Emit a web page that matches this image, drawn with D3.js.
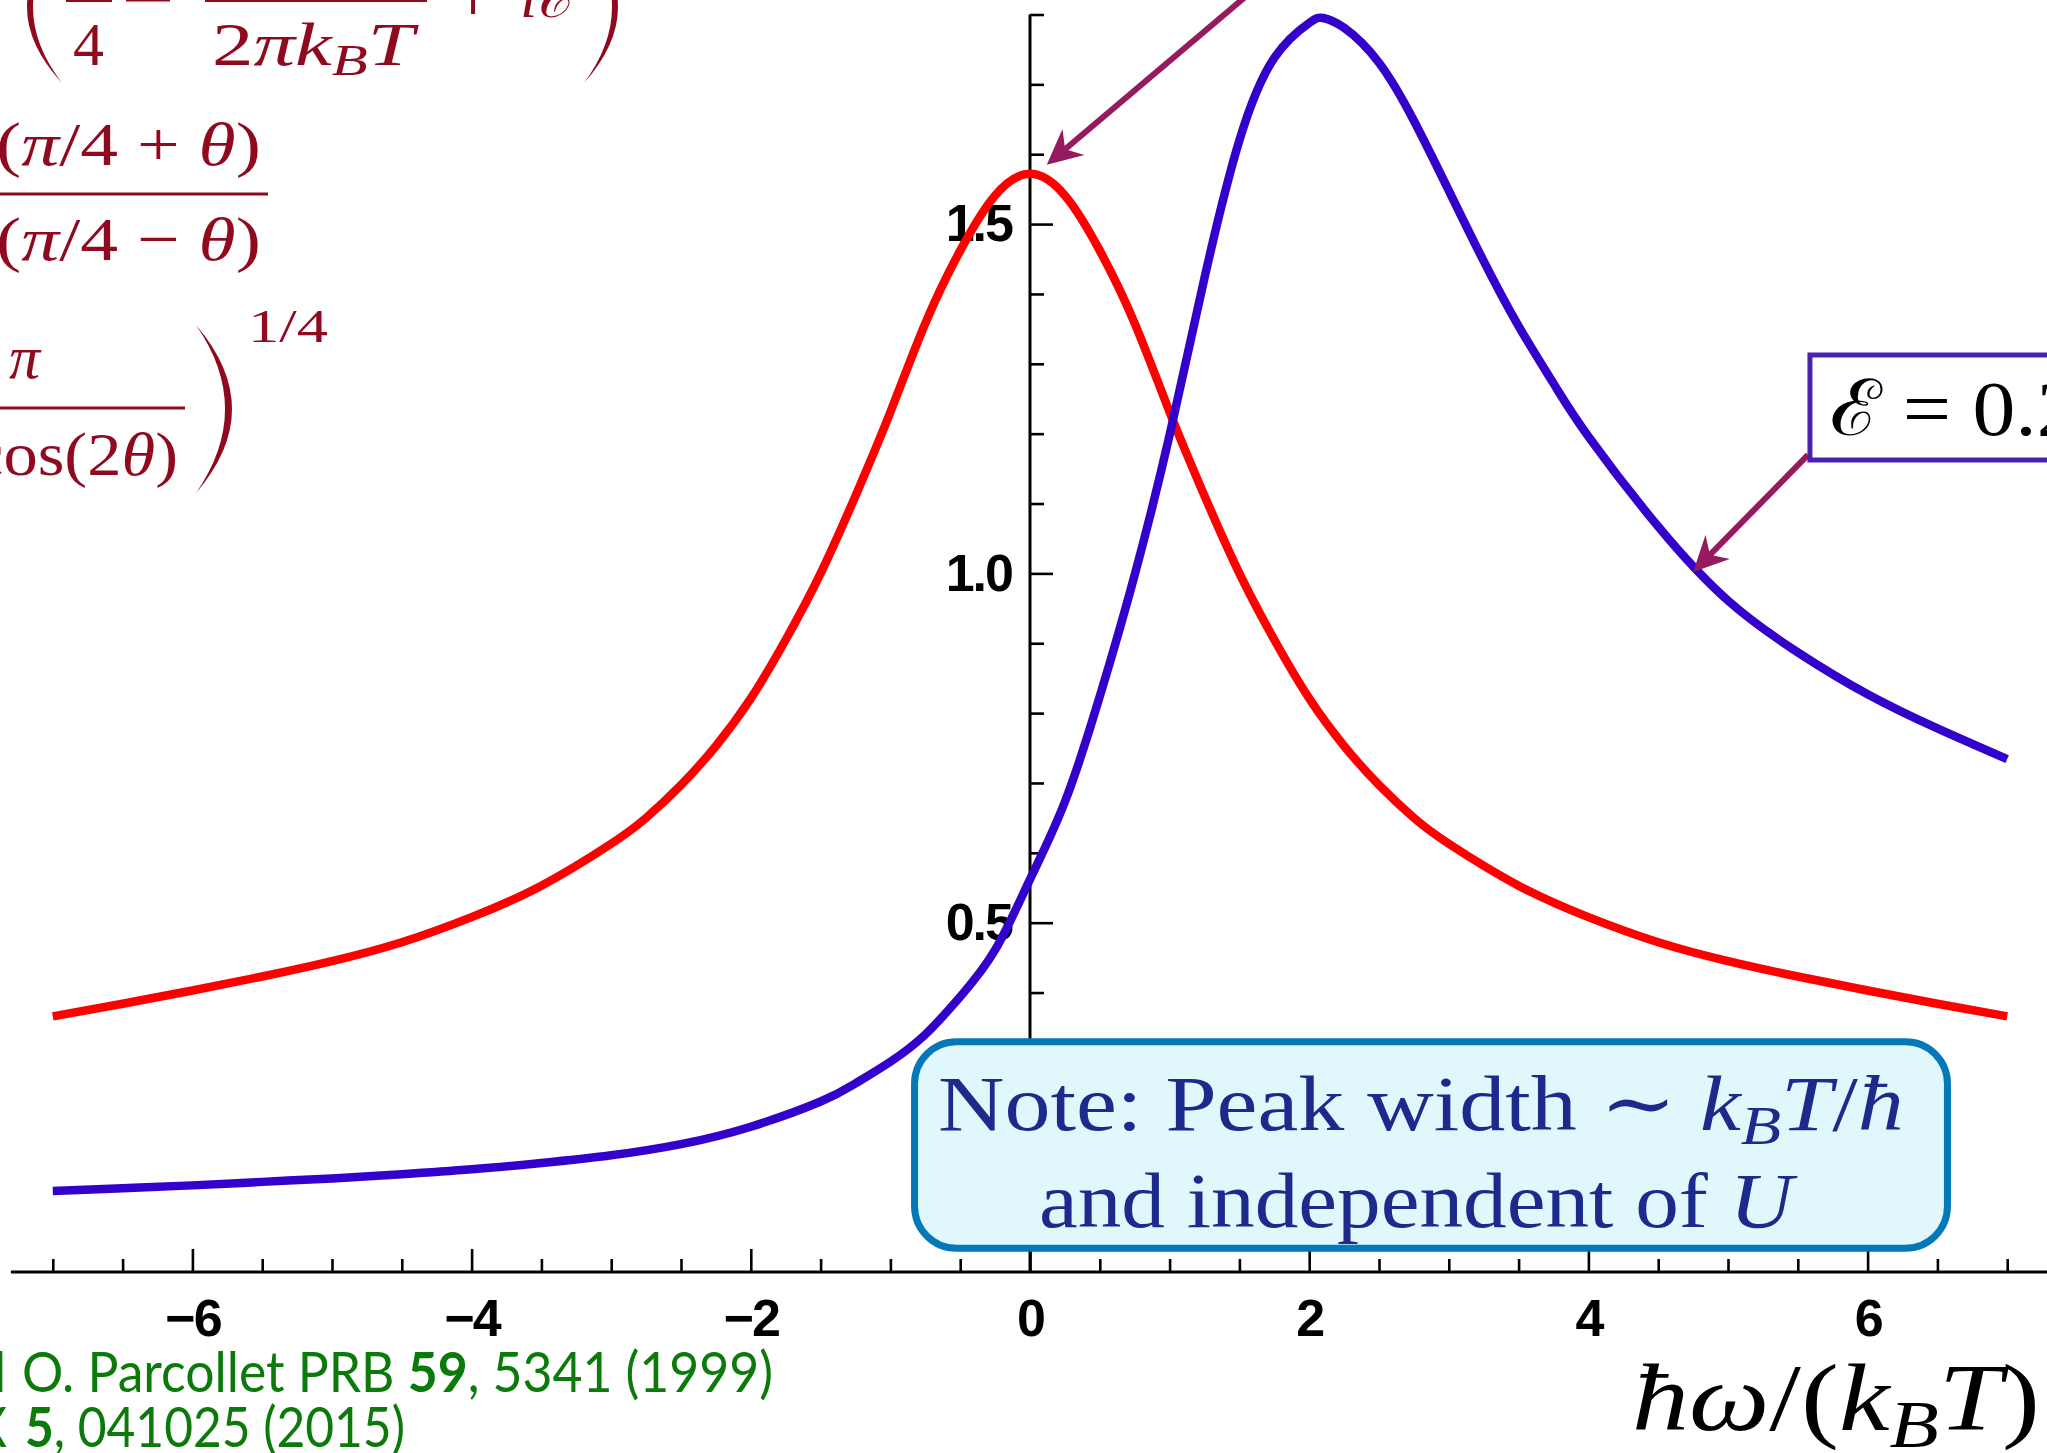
<!DOCTYPE html>
<html>
<head>
  <meta charset="utf-8">
  <style type="text/css">
    html, body { margin: 0; padding: 0; background: #fff; overflow: hidden; }
    svg { display: block; }
  </style>
</head>
<body>
  <div id="viz"></div>
  <script src="https://cdnjs.cloudflare.com/ajax/libs/d3/7.8.5/d3.min.js"></script>
  <script>
  // values
  // red curve (theta = 0, E = 0), symmetric about 0
  const redOmega = [-7, -6.5, -6, -5.5, -5, -4.5, -4, -3.5, -3, -2.75, -2.5, -2.25, -2, -1.75, -1.5, -1.25, -1, -0.75, -0.5, -0.25,
                    0, 0.25, 0.5, 0.75, 1, 1.25, 1.5, 1.75, 2, 2.25, 2.5, 2.75, 3, 3.5, 4, 4.5, 5, 5.5, 6, 6.5, 7];
  const redValues = [0.366, 0.384, 0.403, 0.423, 0.445, 0.472, 0.508, 0.553, 0.613, 0.650, 0.697, 0.753, 0.821, 0.905, 1.000, 1.111, 1.231, 1.358, 1.462, 1.541,
                     1.572, 1.541, 1.462, 1.358, 1.231, 1.111, 1.000, 0.905, 0.821, 0.753, 0.697, 0.650, 0.613, 0.553, 0.508, 0.472, 0.445, 0.423, 0.403, 0.384, 0.366];

  // blue curve (E = 0.2...)
  const blueOmega = [-7, -6.5, -6, -5.5, -5, -4.5, -4, -3.5, -3, -2.5, -2, -1.5, -1.25, -1, -0.75, -0.5, -0.25,
                     0, 0.25, 0.5, 0.75, 1, 1.25, 1.5, 1.75, 2, 2.1, 2.25, 2.5, 2.75, 3, 3.25, 3.5, 3.75, 4, 4.5, 5, 5.5, 6, 6.5, 7];
  const blueValues = [0.116, 0.120, 0.124, 0.129, 0.134, 0.140, 0.147, 0.156, 0.167, 0.183, 0.208, 0.244, 0.270, 0.301, 0.340, 0.394, 0.461,
                      0.562, 0.673, 0.824, 0.998, 1.198, 1.423, 1.620, 1.738, 1.788, 1.795, 1.781, 1.731, 1.648, 1.548, 1.447, 1.354, 1.272, 1.196, 1.067, 0.961, 0.887, 0.827, 0.778, 0.734];

  // ticks
  const xMajorTicks = [-6, -4, -2, 0, 2, 4, 6];
  const xMinorTicks = d3.range(-14, 15).map(i => i / 2).filter(v => v % 2 !== 0);
  const yMajorTicks = [0.5, 1.0, 1.5];
  const yMinorTicks = d3.range(1, 19).map(i => i / 10).filter(v => Math.abs(v * 2 - Math.round(v * 2)) > 1e-9);

  const W = 2047, H = 1453;
  const serif = "'Liberation Serif', 'DejaVu Serif', serif";
  const redInk = '#ff0000',
        blueInk = '#3300cc',
        formulaInk = '#8f0a1e',
        arrowInk = '#961a5e',
        noteInk = '#1c2a8c',
        refInk = '#0b7a0b';

  const svg = d3.select('#viz').append('svg')
    .attr('width', W)
    .attr('height', H);

  const x = d3.scaleLinear().domain([-7, 7]).range([52.8, 2007.2]);
  const y = d3.scaleLinear().domain([0, 1.8]).range([1272, 14.5]);

  // stretch a text element horizontally so that it spans x0..x1
  const fit = (sel, x0, x1) => {
    const bb = sel.node().getBBox();
    const s = (x1 - x0) / bb.width;
    sel.attr('transform', 'translate(' + x0 + ',0) scale(' + s + ',1) translate(' + (-bb.x) + ',0)');
    return s;
  };

  // big bracket drawn as a crescent
  const paren = (g, xOuter, xEnd, yTop, yBot, t, color) => {
    const mid = (yTop + yBot) / 2;
    const c1 = 2 * xOuter - xEnd;
    const dir = xOuter < xEnd ? 1 : -1;
    const c2 = 2 * (xOuter + dir * t) - xEnd;
    g.append('path')
      .attr('d', 'M' + xEnd + ',' + yTop + ' Q' + c1 + ',' + mid + ' ' + xEnd + ',' + yBot +
                 ' Q' + c2 + ',' + mid + ' ' + xEnd + ',' + yTop + 'Z')
      .attr('fill', color);
  };

  // ---------- axes ----------
  const axisX = svg.append('g').attr('transform', 'translate(0,' + y(0) + ')');
  axisX.append('g')
    .call(d3.axisBottom(x).tickValues(xMinorTicks).tickSize(-13).tickFormat(''));
  axisX.append('g')
    .call(d3.axisBottom(x).tickValues(xMajorTicks).tickSize(-23).tickPadding(27));
  axisX.selectAll('.domain').remove();
  axisX.append('line')
    .attr('x1', x(-7.3)).attr('x2', x(7.6))
    .attr('stroke', '#000').attr('stroke-width', 3);

  const axisY = svg.append('g').attr('transform', 'translate(' + x(0) + ',0)');
  axisY.append('g')
    .call(d3.axisLeft(y).tickValues(yMinorTicks).tickSize(-14).tickFormat(''));
  axisY.append('g')
    .call(d3.axisLeft(y).tickValues(yMajorTicks).tickSize(-23).tickPadding(18).tickFormat(d3.format('.1f')));
  axisY.selectAll('.domain').remove();
  axisY.append('line')
    .attr('y1', y(0)).attr('y2', y(1.8))
    .attr('stroke', '#000').attr('stroke-width', 3);

  svg.selectAll('.tick line').attr('stroke', '#000').attr('stroke-width', 2.6);
  svg.selectAll('.tick text')
    .attr('fill', '#000')
    .style('font-family', "'Liberation Sans', Arial, sans-serif")
    .style('font-weight', 'bold')
    .style('font-size', '52px')
    .style('letter-spacing', '-2px');

  // ---------- curves ----------
  const line = d3.line()
    .x(d => x(d[0]))
    .y(d => y(d[1]))
    .curve(d3.curveNatural);

  svg.append('path')
    .datum(d3.zip(redOmega, redValues))
    .attr('d', line)
    .attr('fill', 'none')
    .attr('stroke', redInk)
    .attr('stroke-width', 8.5);

  svg.append('path')
    .datum(d3.zip(blueOmega, blueValues))
    .attr('d', line)
    .attr('fill', 'none')
    .attr('stroke', blueInk)
    .attr('stroke-width', 8.5);

  // ---------- arrows ----------
  const arrow = (from, to) => {
    const x1 = x(from[0]), y1 = y(from[1]), x2 = x(to[0]), y2 = y(to[1]);
    const a = Math.atan2(y2 - y1, x2 - x1);
    const ux = Math.cos(a), uy = Math.sin(a), nx = -uy, ny = ux;
    const L = 35, Wd = 17, notch = 24;
    const bx = x2 - ux * L, by = y2 - uy * L;
    svg.append('line')
      .attr('x1', x1).attr('y1', y1)
      .attr('x2', x2 - ux * notch).attr('y2', y2 - uy * notch)
      .attr('stroke', arrowInk).attr('stroke-width', 6);
    svg.append('polygon')
      .attr('points', [[x2, y2], [bx + nx * Wd, by + ny * Wd], [x2 - ux * notch, y2 - uy * notch], [bx - nx * Wd, by - ny * Wd]].join(' '))
      .attr('fill', arrowInk);
  };
  arrow([1.6, 1.835], [0.12, 1.585]);
  arrow([5.573, 1.1695], [4.75, 1.002]);

  // ---------- E label box ----------
  svg.append('rect')
    .attr('x', x(5.587)).attr('y', y(1.3126))
    .attr('width', 400).attr('height', y(1.1623) - y(1.3126))
    .attr('fill', '#fff')
    .attr('stroke', '#4b22b0').attr('stroke-width', 5);
  const eps = svg.append('text')
    .attr('y', y(1.3126) + 80)
    .style('font-family', serif).style('font-size', '78px')
    .attr('fill', '#000')
    .text('\u2130 = 0.2');
  fit(eps, x(5.587) + 20, 2080);

  // ---------- note box ----------
  svg.append('rect')
    .attr('x', x(-0.827)).attr('y', y(0.3297))
    .attr('width', x(6.572) - x(-0.827)).attr('height', y(0.0339) - y(0.3297))
    .attr('rx', 42).attr('ry', 42)
    .attr('fill', '#e0f8fc')
    .attr('stroke', '#0578b8').attr('stroke-width', 7);

  const note = svg.append('g')
    .attr('fill', noteInk)
    .style('font-family', serif)
    .style('font-size', '78px');
  const n1 = note.append('text').attr('y', 1130);
  n1.append('tspan').text('Note: Peak width \u223C ');
  n1.append('tspan').style('font-style', 'italic').text('k');
  n1.append('tspan').style('font-style', 'italic').style('font-size', '56px').attr('dy', 14).text('B');
  n1.append('tspan').style('font-style', 'italic').attr('dy', -14).text('T');
  n1.append('tspan').text('/');
  n1.append('tspan').style('font-style', 'italic').text('\u0127');
  fit(n1, 938, 1904);
  const n2 = note.append('text').attr('y', 1227);
  n2.append('tspan').text('and independent of ');
  n2.append('tspan').style('font-style', 'italic').text('U');
  fit(n2, 1039, 1798);

  // ---------- x axis title ----------
  const xt = svg.append('text')
    .attr('y', 1430)
    .attr('fill', '#000')
    .style('font-family', serif)
    .style('font-size', '96px');
  xt.append('tspan').style('font-style', 'italic').text('\u0127\u03C9');
  xt.append('tspan').text('/(');
  xt.append('tspan').style('font-style', 'italic').text('k');
  xt.append('tspan').style('font-style', 'italic').style('font-size', '68px').attr('dy', 17).text('B');
  xt.append('tspan').style('font-style', 'italic').attr('dy', -17).text('T');
  xt.append('tspan').text(')');
  fit(xt, 1632, 2040);

  // ---------- formula (top left, cropped) ----------
  const fm = svg.append('g')
    .attr('fill', formulaInk)
    .style('font-family', serif)
    .style('font-size', '62px');

  // row 1
  paren(fm, 27, 62, -69, 83, 6, formulaInk);
  paren(fm, 618, 584, -69, 83, 6, formulaInk);
  fm.append('line').attr('x1', 66).attr('x2', 112).attr('y1', 0.5).attr('y2', 0.5)
    .attr('stroke', formulaInk).attr('stroke-width', 3);
  fm.append('line').attr('x1', 126).attr('x2', 170).attr('y1', 0).attr('y2', 0)
    .attr('stroke', formulaInk).attr('stroke-width', 3);
  fm.append('line').attr('x1', 205).attr('x2', 427).attr('y1', 0.5).attr('y2', 0.5)
    .attr('stroke', formulaInk).attr('stroke-width', 3);
  fm.append('text').attr('x', 73).attr('y', 65).text('4');
  const r1 = fm.append('text').attr('y', 65);
  r1.append('tspan').text('2');
  r1.append('tspan').style('font-style', 'italic').text('\u03C0k');
  r1.append('tspan').style('font-style', 'italic').style('font-size', '44px').attr('dy', 10).text('B');
  r1.append('tspan').style('font-style', 'italic').attr('dy', -10).text('T');
  fit(r1, 212, 420);
  fm.append('text').attr('x', 473).attr('y', 22).attr('text-anchor', 'middle')
    .style('font-size', '80px').text('+');
  fm.append('text').attr('x', 520).attr('y', 17).style('font-style', 'italic').text('i\u2130');

  // row 2
  const num = fm.append('text').attr('y', 165);
  num.append('tspan').text('(');
  num.append('tspan').style('font-style', 'italic').text('\u03C0');
  num.append('tspan').text('/4 + ');
  num.append('tspan').style('font-style', 'italic').text('\u03B8');
  num.append('tspan').text(')');
  fit(num, -4, 261);
  fm.append('line').attr('x1', -5).attr('x2', 268).attr('y1', 194).attr('y2', 194)
    .attr('stroke', formulaInk).attr('stroke-width', 3);
  const den = fm.append('text').attr('y', 260);
  den.append('tspan').text('(');
  den.append('tspan').style('font-style', 'italic').text('\u03C0');
  den.append('tspan').text('/4 \u2212 ');
  den.append('tspan').style('font-style', 'italic').text('\u03B8');
  den.append('tspan').text(')');
  fit(den, -4, 261);

  // row 3
  fm.append('text').attr('x', 9).attr('y', 378).style('font-style', 'italic').text('\u03C0');
  fm.append('line').attr('x1', -5).attr('x2', 185).attr('y1', 408).attr('y2', 408)
    .attr('stroke', formulaInk).attr('stroke-width', 3);
  const cosT = fm.append('text').attr('y', 475);
  cosT.append('tspan').text('cos(2');
  cosT.append('tspan').style('font-style', 'italic').text('\u03B8');
  cosT.append('tspan').text(')');
  fit(cosT, -27, 178);
  paren(fm, 232, 196, 325, 493, 7, formulaInk);
  const pw = fm.append('text').attr('y', 342).style('font-size', '46px').text('1/4');
  fit(pw, 248, 328);

  // ---------- references (bottom left, cropped) ----------
  const refs = svg.append('g')
    .attr('fill', refInk)
    .style('font-family', "Lato, 'Open Sans', sans-serif")
    .style('font-size', '56px');
  const ref1 = refs.append('text').attr('y', 1392);
  ref1.append('tspan').text('O. Parcollet PRB ');
  ref1.append('tspan').style('font-weight', 'bold').text('59');
  ref1.append('tspan').text(', 5341 (1999)');
  const s1 = fit(ref1, 22, 773);
  refs.append('text').attr('y', 1392).attr('text-anchor', 'end')
    .attr('transform', 'translate(6,0) scale(' + s1 + ',1)')
    .text('A. Georges and');

  const ref2 = refs.append('text').attr('y', 1447);
  ref2.append('tspan').style('font-weight', 'bold').text('5');
  ref2.append('tspan').text(', 041025 (2015)');
  const s2 = fit(ref2, 25, 405);
  refs.append('text').attr('y', 1447).attr('text-anchor', 'end')
    .attr('transform', 'translate(7,0) scale(' + s2 + ',1)')
    .text('S. Sachdev, PRX');
  </script>
</body>
</html>
